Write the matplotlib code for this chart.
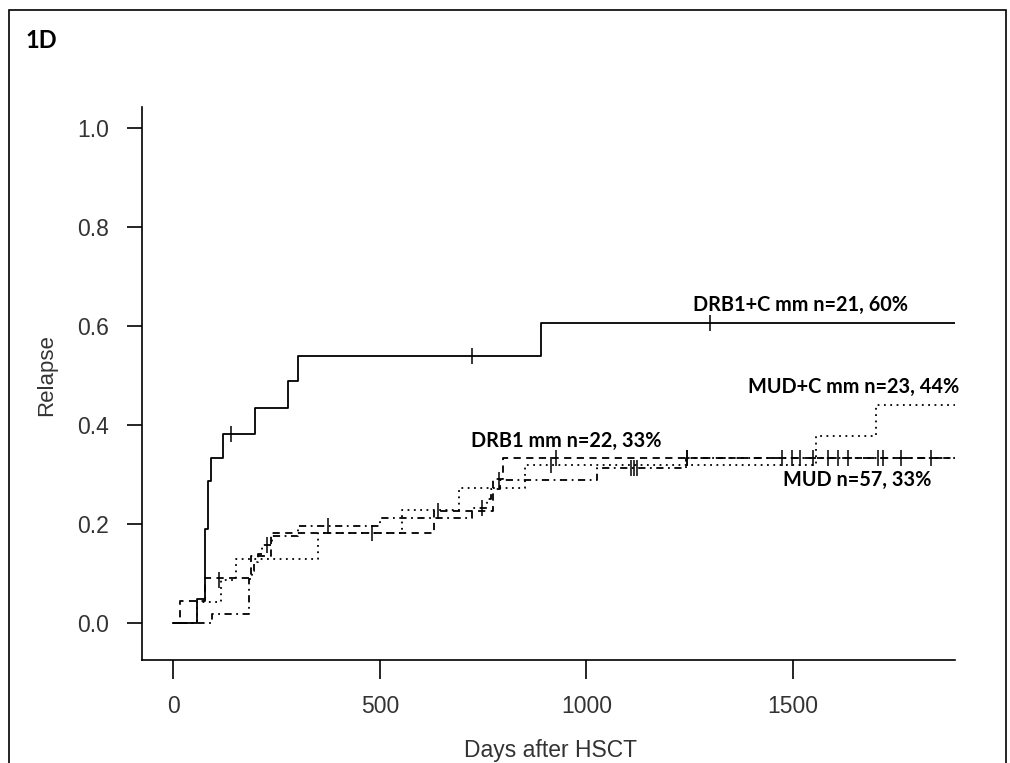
import numpy as np
import matplotlib.pyplot as plt
from matplotlib.patches import Rectangle

# cumulative incidence of relapse, step curves (days, value)
drb1c_t = [0, 58, 76, 84, 92, 121, 198, 277, 302, 890, 1900]
drb1c_y = [0, 0.048, 0.19, 0.286, 0.333, 0.381, 0.434, 0.489, 0.539, 0.605, 0.605]
drb1c_cens_t = [141, 722, 1298]
drb1c_cens_y = [0.381, 0.539, 0.605]

drb1_t = [0, 17, 76, 188, 237, 631, 775, 798, 1900]
drb1_y = [0, 0.045, 0.091, 0.136, 0.182, 0.227, 0.29, 0.333, 0.333]
drb1_cens_t = [480, 640, 927, 1244]
drb1_cens_y = [0.182, 0.227, 0.333, 0.333]

mudc_t = [0, 58, 115, 151, 350, 553, 692, 851, 1555, 1700, 1900]
mudc_y = [0, 0.043, 0.087, 0.13, 0.181, 0.228, 0.272, 0.32, 0.378, 0.44, 0.44]
mudc_cens_t = [110, 915]
mudc_cens_y = [0.087, 0.32]

mud_t = [0, 94, 184, 190, 196, 205, 215, 240, 302, 500, 724, 760, 770, 790, 1025, 1240, 1900]
mud_y = [0, 0.018, 0.088, 0.105, 0.123, 0.14, 0.158, 0.175, 0.195, 0.212, 0.232, 0.25,
         0.27, 0.289, 0.313, 0.333, 0.333]
mud_cens_t = [228, 375, 748, 789, 1107, 1115, 1122, 1244, 1473, 1497, 1517, 1549,
              1585, 1610, 1632, 1705, 1717, 1761, 1834]
mud_cens_y = [0.158, 0.195, 0.232, 0.289, 0.313, 0.313, 0.313] + [0.333] * 12

labels = ["DRB1+C mm n=21, 60%", "MUD+C mm n=23, 44%", "DRB1 mm n=22, 33%", "MUD n=57, 33%"]

W, H = 1010, 763
fig = plt.figure(figsize=(W / 100, H / 100), dpi=100)
ax = fig.add_axes([142 / W, (H - 660) / H, (955 - 142) / W, (660 - 107) / H])

lw = 1.3
ax.step(drb1c_t, drb1c_y, where='post', color='black', lw=lw)
ax.step(drb1_t, drb1_y, where='post', color='black', lw=lw, dashes=(4, 3))
ax.step(mudc_t, mudc_y, where='post', color='black', lw=lw, dashes=(1, 2.5))
ax.step(mud_t, mud_y, where='post', color='black', lw=lw, dashes=(1, 2.5, 4, 2.5))

for ct, cy in [(drb1c_cens_t, drb1c_cens_y), (drb1_cens_t, drb1_cens_y),
               (mudc_cens_t, mudc_cens_y), (mud_cens_t, mud_cens_y)]:
    ax.plot(ct, cy, ls='none', marker='|', ms=11, mew=1.1, color='black')

ax.set_xlim(-75.5, 1892)
ax.set_ylim(-0.0747, 1.042)
ax.spines['top'].set_visible(False)
ax.spines['right'].set_visible(False)
for s in ['left', 'bottom']:
    ax.spines[s].set_linewidth(1.2)

ax.set_xticks([0, 500, 1000, 1500])
ax.set_yticks([0, 0.2, 0.4, 0.6, 0.8, 1.0])
ax.set_yticklabels(["0.0", "0.2", "0.4", "0.6", "0.8", "1.0"])
ax.tick_params(axis='y', length=11, width=1.2, pad=13, labelsize=16.5, labelcolor='#333333')
ax.tick_params(axis='x', length=14, width=1.2, pad=11, labelsize=16.5, labelcolor='#333333')
for t in ax.get_xticklabels() + ax.get_yticklabels():
    t.set_fontfamily('Liberation Sans')

fig.text(47 / W, 1 - 375 / H, "Relapse", rotation=90, ha='center', va='center',
         fontsize=16, color='#333333', family='Liberation Sans')
fig.text(550 / W, 1 - 750 / H, "Days after HSCT", ha='center', va='center',
         fontsize=16.5, color='#333333', family='Liberation Sans')

lab_kw = dict(fontsize=14.3, fontweight='bold', family='Lato', color='black')
ax.text(1258, 0.642, labels[0], va='center', ha='left', **lab_kw)
ax.text(1902, 0.477, labels[1], va='center', ha='right', clip_on=False, **lab_kw)
ax.text(721, 0.368, labels[2], va='center', ha='left', **lab_kw)
ax.text(1476, 0.289, labels[3], va='center', ha='left', **lab_kw)

fig.text(25 / W, 1 - 40 / H, "1D", fontsize=17, fontweight='bold', family='Lato',
         va='center', ha='left')

fig.patches.append(Rectangle((8.5 / W, -0.01), (1006 - 8.5) / W, 1 - 9.5 / H + 0.01,
                             transform=fig.transFigure, fill=False, lw=1.2, ec='black'))

fig.savefig("out.png", dpi=100)
